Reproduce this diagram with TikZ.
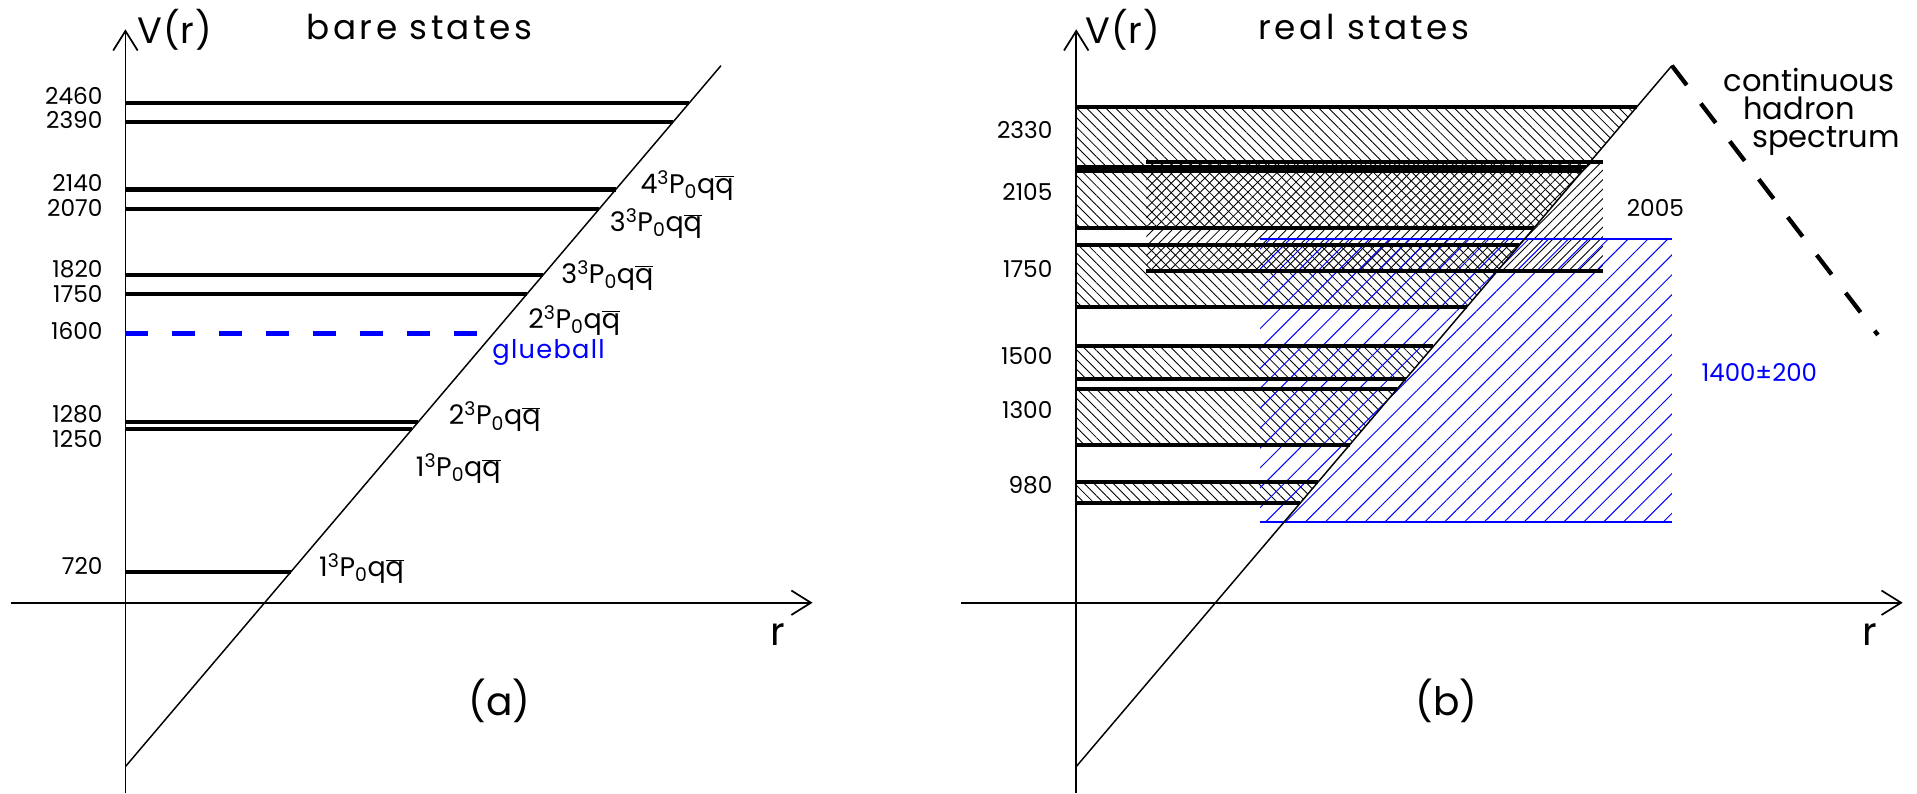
\documentclass[tikz,border=0pt]{standalone}
\usepackage{fontspec}
\setmainfont{Poppins}
\usetikzlibrary{arrows.meta,patterns.meta}

\newcommand{\qbar}{$\overline{\mbox{q}}$}
\newcommand{\pstate}[1]{#1\textsuperscript{3}P\textsubscript{0}q\qbar}
\newcommand{\sz}[1]{\fontsize{#1}{#1}\selectfont}

\begin{document}
\begin{tikzpicture}
[x=1pt, y=1pt, line cap=butt]
\tikzstyle{axisline}=[line width=1.4pt, -{Straight Barb[length=16pt, width=20pt, line width=1.4pt]}]
\tikzstyle{confline}=[line width=1.2pt]
\tikzstyle{stateline}=[line width=3.3pt]
\tikzstyle{numlabel}=[anchor=east, inner sep=0pt, font=\sz{19}]
\tikzstyle{statelabel}=[anchor=base west, inner sep=0pt, font={\sz{22}\addfontfeature{LetterSpace=8}}]
\tikzstyle{paneltitle}=[anchor=base, inner sep=0pt, font={\sz{28}\addfontfeature{LetterSpace=10}}]
\tikzstyle{vlabel}=[inner sep=0pt, font={\sz{30}\addfontfeature{LetterSpace=2}}]
\tikzstyle{tag}=[inner sep=0pt, font=\sz{32}]
\tikzstyle{nwhatch}=[pattern={Lines[angle=-45, distance=5.6pt, line width=0.7pt]}]
\tikzstyle{nehatch}=[pattern={Lines[angle=45, distance=5.5pt, line width=0.7pt]}]
\tikzstyle{bluehatch}=[pattern={Lines[angle=45, distance=11.5pt, line width=0.8pt]}, pattern color=blue]
\useasboundingbox (-102.6,-156) rectangle (1465.4,493);

% (a) bare states
\draw[axisline] (0,-156) -- (0,469);
\draw[axisline] (-93.4,0) -- (562,0);
\draw[confline] (0,-134) -- (487.1,439.3);
\foreach \y in {409,393.2,338,322,268,252.5,148,142,25}
  \draw[stateline] (0,\y) -- ({(\y+134)/1.177},\y);
\draw[stateline, line width=3.8pt, blue, dash pattern=on 18.8pt off 19.6pt] (0,220) -- (287.4,220);

\foreach \m/\y in {2460/414.3, 2390/394.8, 2140/343.7, 2070/323.3, 1820/273,
                   1750/252.5, 1600/222.2, 1280/154.4, 1250/134, 720/30}
  \node[numlabel] (a\m) at (-18.6,\y) {\m};

\node[statelabel] (a4P) at (421.1,334.9) {\pstate{4}};
\node[statelabel] (a3Pb) at (396.1,303.5) {\pstate{3}};
\node[statelabel] (a3Pa) at (356.4,261.3) {\pstate{3}};
\node[statelabel] (a2Pb) at (329.4,224.5) {\pstate{2}};
\node[statelabel, blue, font={\sz{21}\addfontfeature{LetterSpace=5}}] (glue) at (300,200) {glueball};
\node[statelabel] (a2Pa) at (264.4,145.4) {\pstate{2}};
\node[statelabel] (a1Pb) at (237.4,103) {\pstate{1}};
\node[statelabel] (a1Pa) at (158.3,21.3) {\pstate{1}};

\node[vlabel] (Va) at (40.4,469) {V(r)};
\node[paneltitle] (bare) at (240.4,460.3) {bare states};
\node[tag, anchor=base] (ra) at (533.4,-34.6) {r};
\node[tag] (capa) at (306,-80.2) {(a)};

% (b) real states
\begin{scope}[xshift=777.7pt]
\begin{scope}
\clip (0,-134) -- (487.2,439.3) -- (0,439.3) -- cycle;
\foreach \t/\b in {405.8/356.7, 353.1/306.8, 292.6/242.2, 209.7/183, 174.9/129.1, 99.1/81.4}
  \fill[nwhatch] (0,\t) rectangle (490,\b);
\end{scope}
\fill[nehatch] (57.3,360.8) rectangle (430.7,271.3);
\fill[bluehatch] (150.3,297.5) rectangle (487.2,66);
\draw[blue, line width=1pt] (150.3,297.5) -- (487.2,297.5);
\draw[blue, line width=1pt] (150.3,66) -- (487.2,66);

\foreach \y in {405.8,356.7,353.1,306.8,292.6,242.2,209.7,183,174.9,129.1,99.1,81.4}
  \draw[stateline] (0,\y) -- ({(\y+134)/1.177},\y);
\draw[stateline] (57.3,360.8) -- (430.7,360.8);
\draw[stateline] (57.3,271.3) -- (430.7,271.3);

\draw[axisline] (0,-156) -- (0,469);
\draw[axisline] (-94,0) -- (676,0);
\draw[confline] (0,-134) -- (487.2,439.3);
\draw[line width=3.5pt, dash pattern=on 20pt off 19pt] (487.2,439.3) -- (655.7,219);

\foreach \m/\y in {2330/387, 2105/336, 1750/273, 1500/202, 1300/158, 980/96}
  \node[numlabel] (b\m) at (-19.3,\y) {\m};
\node[numlabel, anchor=center] (b2005) at (473.7,323) {2005};
\node[numlabel, anchor=center, blue, font=\sz{20}] (bglue) at (558.7,188) {1400±200};

\node[tag, anchor=base, font=\sz{25}] (cont) at (599.2,418) {continuous};
\node[tag, anchor=base, font=\sz{25}] (hadr) at (591.2,395) {hadron};
\node[tag, anchor=base, font=\sz{25}] (spec) at (613.2,372) {spectrum};

\node[vlabel] (Vb) at (38.2,469) {V(r)};
\node[paneltitle] (real) at (235.4,460.3) {real states};
\node[tag, anchor=base] (rb) at (649,-34.6) {r};
\node[tag] (capb) at (302.8,-80.2) {(b)};
\end{scope}
\end{tikzpicture}
\end{document}
